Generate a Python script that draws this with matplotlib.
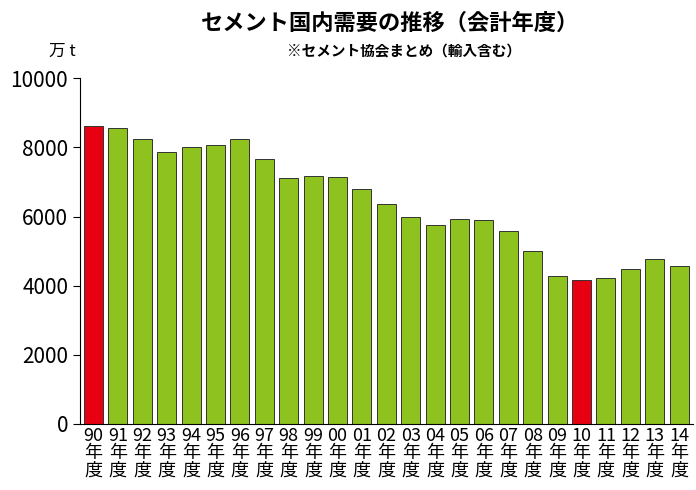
import matplotlib.pyplot as plt

plt.rcParams['font.family'] = ['Noto Sans CJK JP']

years = ["90", "91", "92", "93", "94", "95", "96", "97", "98", "99", "00", "01",
         "02", "03", "04", "05", "06", "07", "08", "09", "10", "11", "12", "13", "14"]
demand = [8630, 8560, 8250, 7880, 8000, 8060, 8260, 7680, 7110, 7180, 7160, 6810,
          6370, 5990, 5770, 5920, 5910, 5570, 5010, 4290, 4160, 4210, 4480, 4770, 4560]
highlight = ["90", "10"]

colors = ['#e60012' if y in highlight else '#8dc21f' for y in years]

fig = plt.figure(figsize=(6.96, 4.9), dpi=100)
ax = fig.add_axes([0.115, 0.135, 0.88, 0.705])
ax.bar(range(len(years)), demand, width=0.78, color=colors, edgecolor='#333333', linewidth=0.7)

ax.set_ylim(0, 10000)
ax.set_xlim(-0.55, len(years) - 0.45)
ax.set_yticks(range(0, 10001, 2000))
ax.tick_params(axis='y', labelsize=15, direction='out', length=5)
ax.set_xticks(range(len(years)))
ax.set_xticklabels([y + "\n年\n度" for y in years], fontsize=13, linespacing=0.95)
ax.tick_params(axis='x', length=0, pad=2)
for s in ['top', 'right']:
    ax.spines[s].set_visible(False)

fig.text(0.56, 0.94, "セメント国内需要の推移（会計年度）", ha='center', fontsize=16, fontweight='bold')
fig.text(0.58, 0.885, "※セメント協会まとめ（輸入含む）", ha='center', fontsize=10.5, fontweight='bold')
fig.text(0.07, 0.885, "万 t", fontsize=12)

fig.savefig("out.png", dpi=100)
